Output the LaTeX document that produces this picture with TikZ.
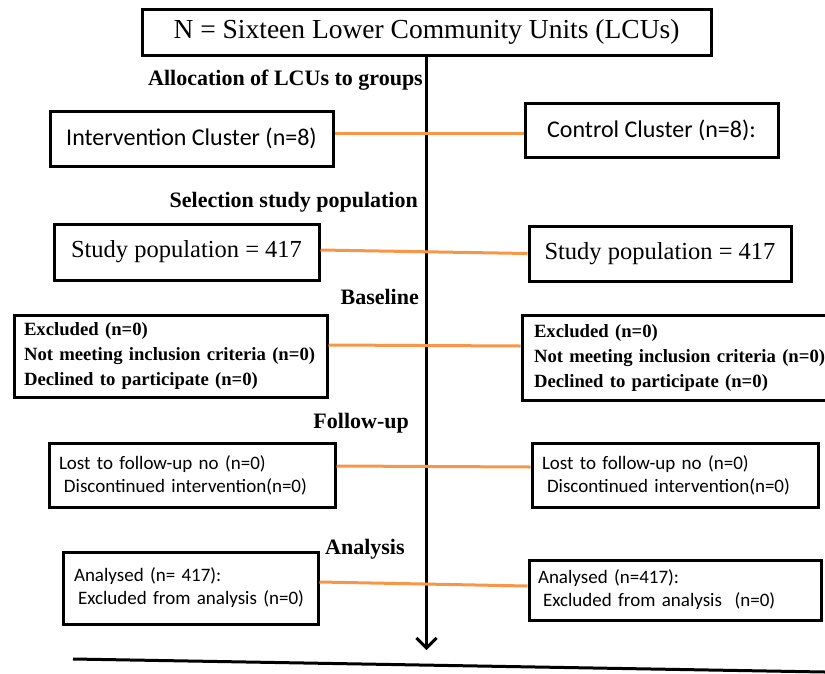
\documentclass[tikz,border=0pt]{standalone}
\usepackage{fontspec}
\setmainfont{Liberation Serif}
\newfontfamily\calibrifont{Carlito}
\usetikzlibrary{arrows.meta}
\definecolor{linkorange}{RGB}{247,150,70}
\begin{document}
\begin{tikzpicture}
[x=1pt,y=-1pt,
  boxdecorate/.style={draw,line width=3pt,inner sep=0pt},%
  stagedecorate/.style={inner sep=0pt,font=\fontsize{22}{26}\selectfont\bfseries},%
  bigserif/.style={font=\fontsize{24.5}{29}\selectfont},%
  bigsans/.style={font=\calibrifont\fontsize{24}{29}\selectfont},%
  smallserif/.style={font=\fontsize{18.7}{25}\selectfont\bfseries,align=left},%
  smallsans/.style={font=\calibrifont\fontsize{19}{23}\selectfont,align=left},%
  linkdecorate/.style={draw=linkorange,line width=3pt},%
  arrowdecorate/.style={-{Straight Barb[length=10pt,width=20pt]},line width=3pt}]
\useasboundingbox (0,0) rectangle (825,673);
% nodes or boxes
\node (top) at (426.5,32) [boxdecorate,minimum width=569pt,minimum height=46pt,
  font=\fontsize{27.5}{33}\selectfont] {N = Sixteen Lower Community Units (LCUs)};
\node (alloc) at (423,80) [stagedecorate,anchor=east] {Allocation of LCUs to groups};
\node (intl) at (191.5,138.5) [boxdecorate,bigsans,minimum width=283pt,minimum height=55pt] {Intervention Cluster (n=8)};
\node (ctlr) at (651.5,130) [boxdecorate,bigsans,minimum width=253pt,minimum height=54pt] {Control Cluster (n=8):};
\node (select) at (418,202) [stagedecorate,anchor=east] {Selection study population};
\node (studyl) at (186.5,252) [boxdecorate,bigserif,minimum width=265pt,minimum height=56pt] {Study population = 417};
\node (studyr) at (660,253.5) [boxdecorate,bigserif,minimum width=262pt,minimum height=55pt] {Study population = 417};
\node (base) at (419,297) [stagedecorate,anchor=east] {Baseline};
\node (excll) at (170.5,356) [boxdecorate,smallserif,text width=293pt,inner xsep=10pt,minimum height=82pt]
  {Excluded (n=0)\\Not meeting inclusion criteria (n=0)\\Declined to participate (n=0)};
\node (exclr) at (680,357.5) [boxdecorate,smallserif,text width=292pt,inner xsep=12pt,minimum height=85pt]
  {Excluded (n=0)\\Not meeting inclusion criteria (n=0)\\Declined to participate (n=0)};
\node (follow) at (409,423) [stagedecorate,anchor=east] {Follow-up};
\node (lostl) at (192,475) [boxdecorate,smallsans,text width=266pt,inner xsep=10pt,minimum height=64pt]
  {Lost to follow-up no (n=0)\\\hspace*{5pt}Discontinued intervention(n=0)};
\node (lostr) at (675,475) [boxdecorate,smallsans,text width=266pt,inner xsep=10pt,minimum height=64pt]
  {Lost to follow-up no (n=0)\\\hspace*{5pt}Discontinued intervention(n=0)};
\node (analysis) at (325,549) [stagedecorate,anchor=west] {Analysis};
\node (anall) at (190.5,588) [boxdecorate,smallsans,text width=233pt,inner xsep=11pt,minimum height=72pt]
  {Analysed (n= 417):\\\hspace*{4pt}Excluded from analysis (n=0)};
\node (analr) at (675,590) [boxdecorate,smallsans,text width=274pt,inner xsep=9pt,minimum height=60pt]
  {Analysed (n=417):\\\hspace*{5pt}Excluded from analysis\ \ (n=0)};
\coordinate (arrowend) at (427,650);
\coordinate (baseleft) at (73,659);
\coordinate (baseright) at (825,672);
% edges or lines
\draw[arrowdecorate] (top.south) -- (top.south |- arrowend);
\path
([yshift=5.5pt]intl.east) edge[linkdecorate] ([yshift=-3pt]ctlr.west)
([yshift=2pt]studyl.east) edge[linkdecorate] (studyr.west)
([yshift=11pt]excll.east) edge[linkdecorate] ([yshift=11.5pt]exclr.west)
([yshift=9pt]lostl.east) edge[linkdecorate] ([yshift=8pt]lostr.west)
([yshift=6pt]anall.east) edge[linkdecorate] ([yshift=4pt]analr.west);
\draw[line width=3pt] (baseleft) -- (baseright);
\end{tikzpicture}
\end{document}
